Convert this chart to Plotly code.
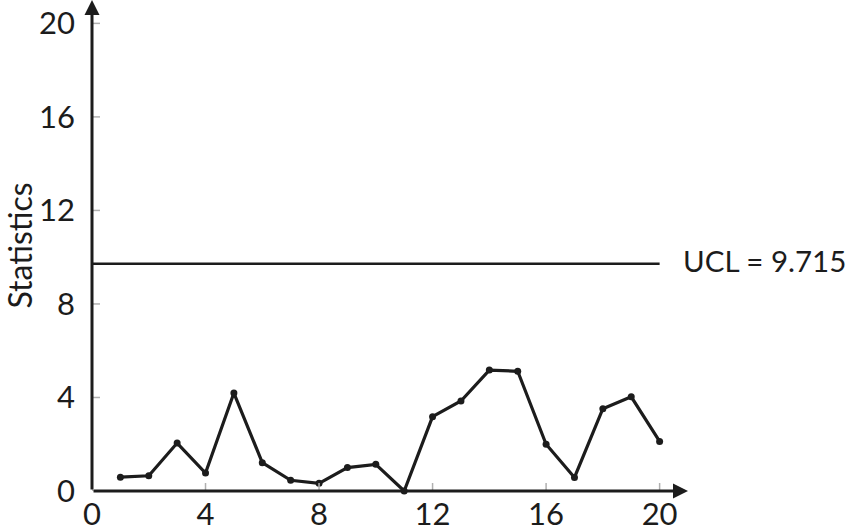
import plotly.graph_objects as go

# chart values
samples = list(range(1, 21))
statistics = [0.59, 0.65, 2.05, 0.77, 4.19, 1.21, 0.46, 0.33, 1.0, 1.14,
              0.0, 3.18, 3.85, 5.17, 5.12, 2.0, 0.58, 3.52, 4.03, 2.12]
ucl = 9.715
x_ticks = [0, 4, 8, 12, 16, 20]
y_ticks = [0, 4, 8, 12, 16, 20]

INK = "#1c1c1c"
TICK = "#b0b0b0"
FONT = "Lato, 'DejaVu Sans', sans-serif"

fig = go.Figure()

fig.add_trace(go.Scatter(
    x=samples,
    y=statistics,
    mode="lines+markers",
    line=dict(color=INK, width=3.2),
    marker=dict(color=INK, size=7),
    showlegend=False,
    cliponaxis=False,
))

shapes = []
# tick marks crossing the axes
for t in x_ticks:
    shapes.append(dict(type="line", xref="x", yref="y", ysizemode="pixel", yanchor=0,
                       x0=t, x1=t, y0=-8, y1=8, line=dict(color=TICK, width=1.5), layer="above"))
for t in y_ticks:
    shapes.append(dict(type="line", xref="x", yref="y", xsizemode="pixel", xanchor=0,
                       x0=-8, x1=8, y0=t, y1=t, line=dict(color=TICK, width=1.5), layer="above"))
# UCL line
shapes.append(dict(type="line", xref="x", yref="y", x0=0, x1=20, y0=ucl, y1=ucl,
                   line=dict(color=INK, width=2.5)))

annotations = [
    # axis arrows
    dict(x=21, y=0, ax=0, ay=0, xref="x", yref="y", axref="x", ayref="y",
         showarrow=True, arrowhead=2, arrowsize=1, arrowwidth=3, arrowcolor=INK, text=""),
    dict(x=0, y=21, ax=0, ay=0, xref="x", yref="y", axref="x", ayref="y",
         showarrow=True, arrowhead=2, arrowsize=1, arrowwidth=3, arrowcolor=INK, text=""),
    dict(x=20, y=ucl, xref="x", yref="y", xanchor="left", yanchor="middle", xshift=21, yshift=3,
         text="UCL = 9.715", showarrow=False,
         font=dict(size=29.5, color=INK, family=FONT)),
]

fig.update_layout(
    width=850,
    height=531,
    margin=dict(l=92, r=162, t=0, b=40, autoexpand=False),
    paper_bgcolor="white",
    plot_bgcolor="white",
    font=dict(family=FONT, size=31, color=INK),
    shapes=shapes,
    annotations=annotations,
    xaxis=dict(range=[0, 21], tickvals=x_ticks, showgrid=False, zeroline=False,
               showline=False, ticks="", ticklabelstandoff=2, automargin=False),
    yaxis=dict(range=[0, 21], tickvals=y_ticks, showgrid=False, zeroline=False,
               showline=False, ticks="", ticklabelstandoff=16, automargin=False,
               title=dict(text="Statistics", standoff=8, font=dict(size=32))),
)

# drop the page's default body margin so the figure sits at the window corner
fig.write_html("out.html", config={"displayModeBar": False},
               post_script="document.body.style.margin='0';")
